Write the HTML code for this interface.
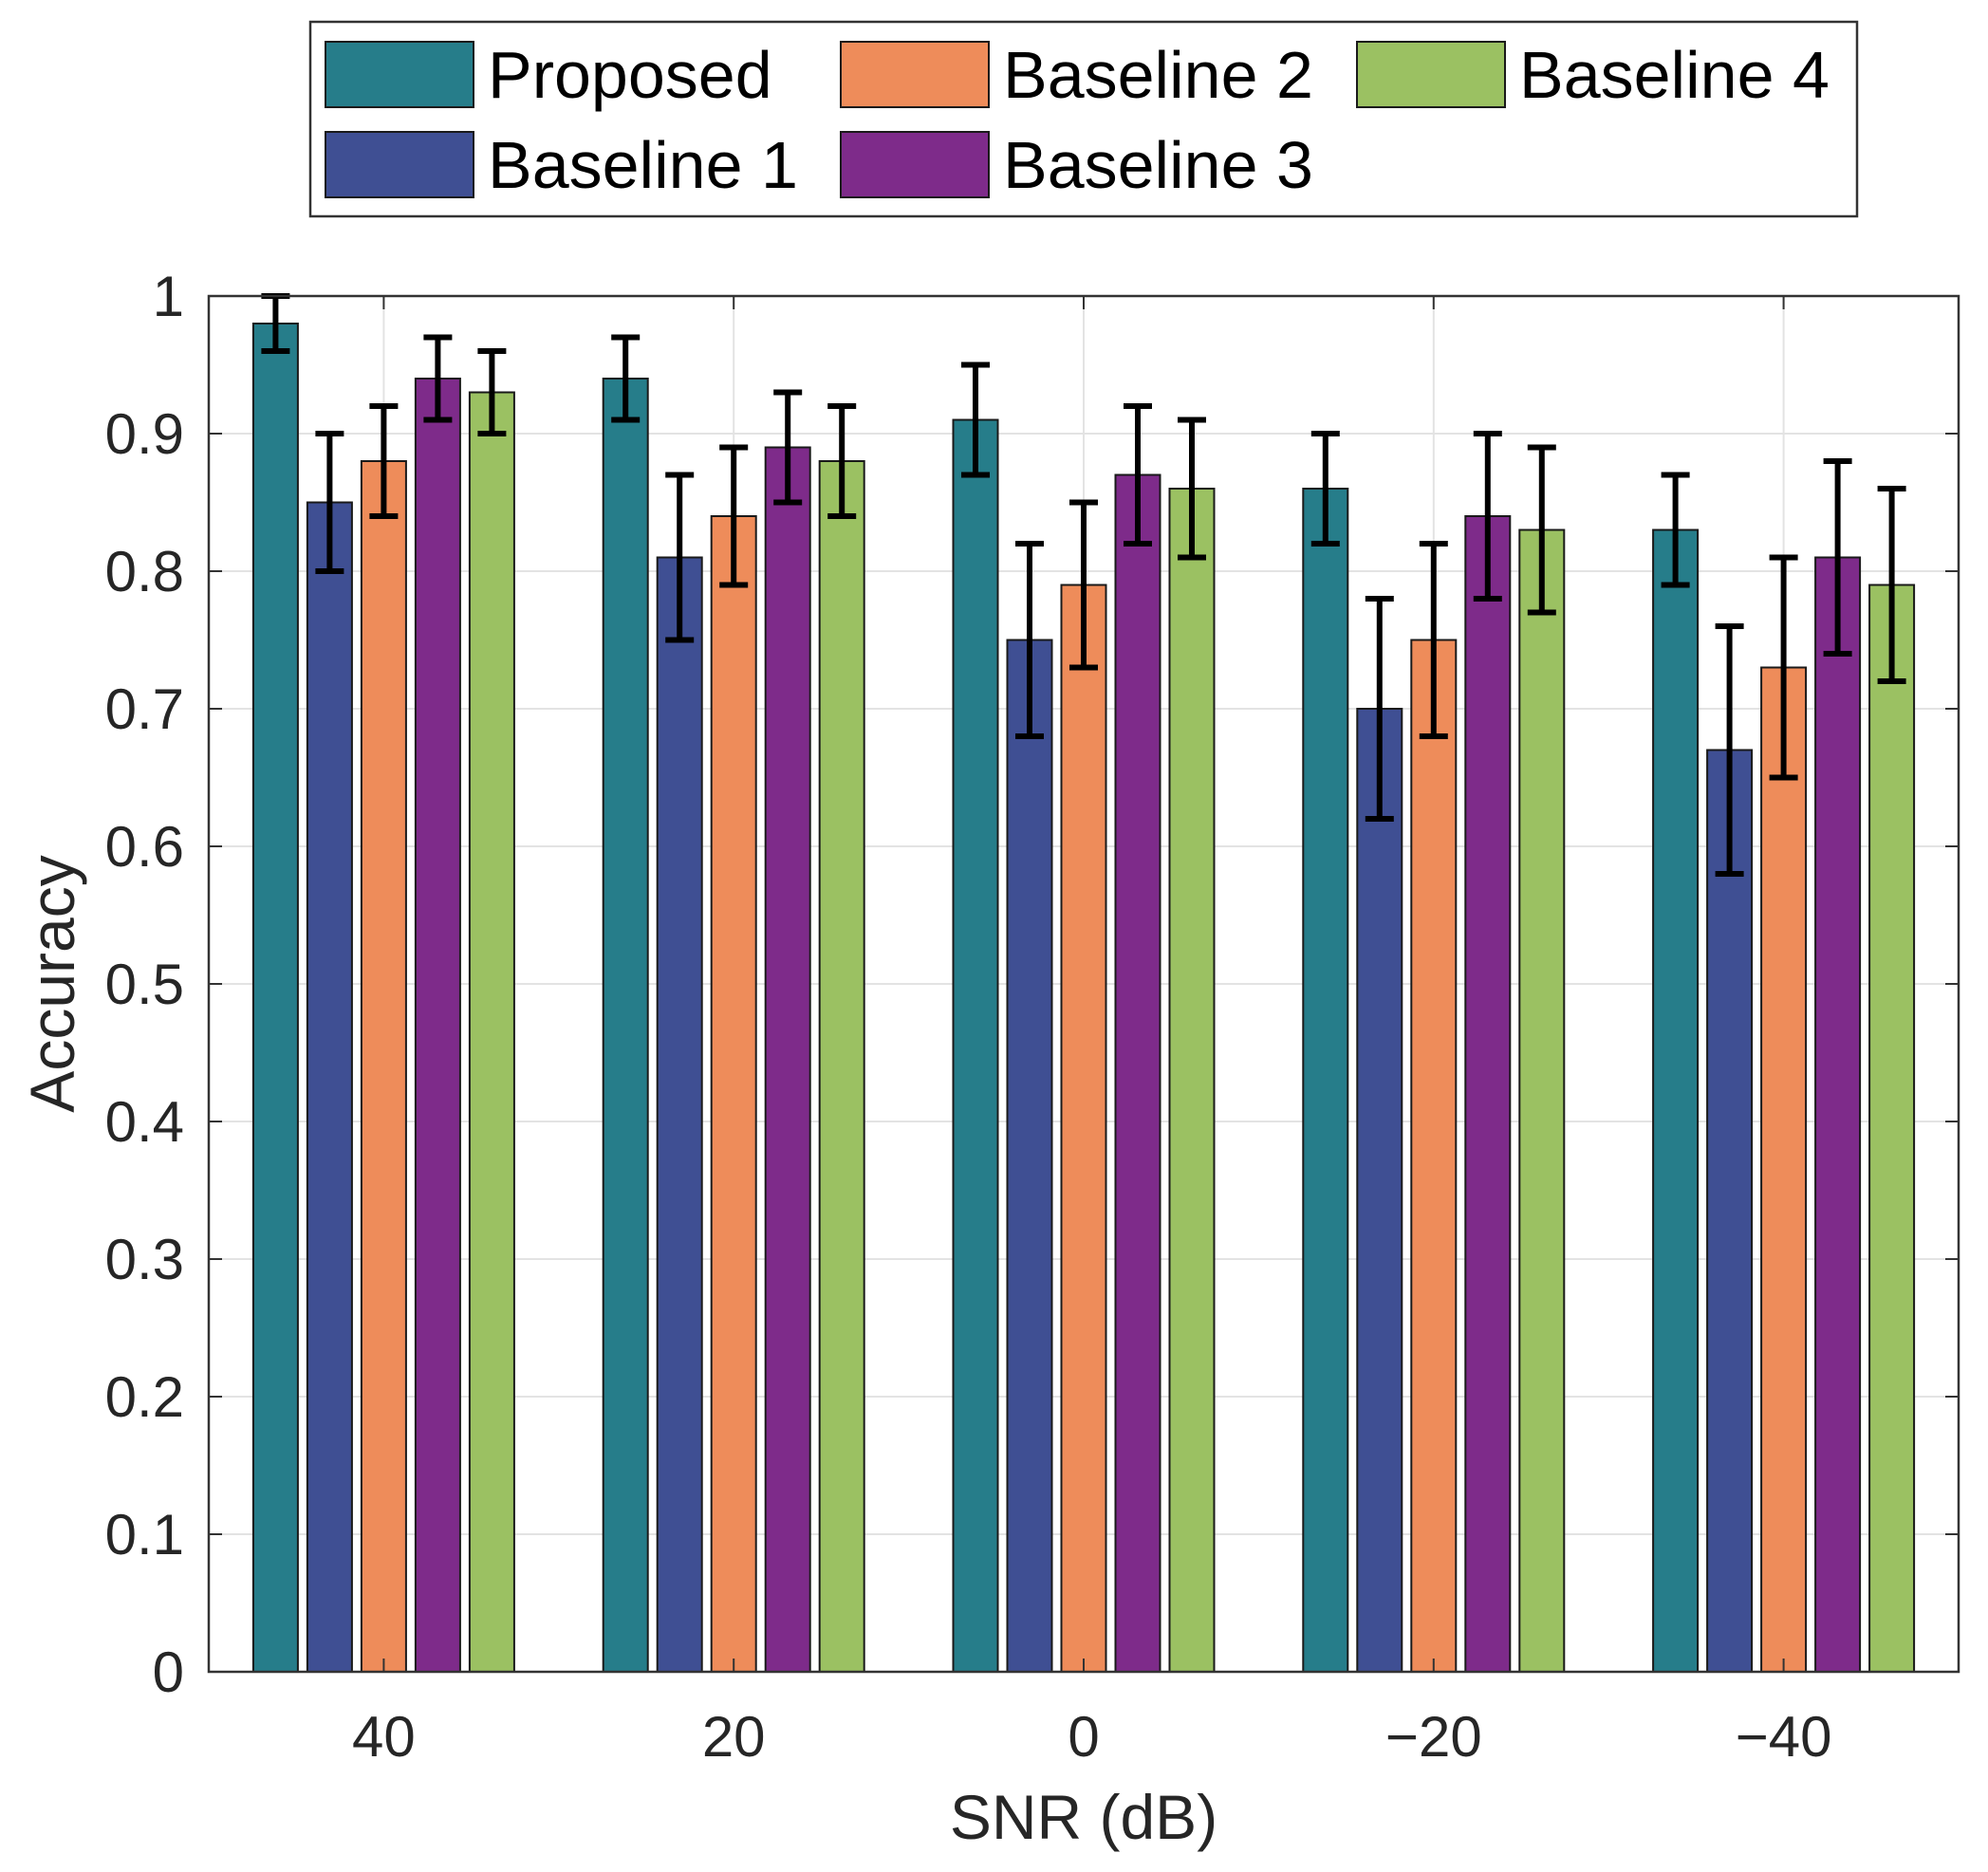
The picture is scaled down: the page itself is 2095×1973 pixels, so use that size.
<!DOCTYPE html>
<html><head><meta charset="utf-8"><style>
html,body{margin:0;padding:0;background:#fff;}
svg{display:block;font-family:"Liberation Sans",Arial,sans-serif;}
</style></head><body>
<svg id="chart" width="2095" height="1973" viewBox="0 0 2095 1973" xmlns="http://www.w3.org/2000/svg">
<g id="grid"></g>
<g id="bars"></g>
<g id="errs"></g>
<g id="axes"></g>
<text x="0" y="0" transform="translate(78,1037) rotate(-90)" text-anchor="middle" font-size="66" fill="#262626">Accuracy</text>
<text x="1142" y="1938" text-anchor="middle" font-size="66" fill="#262626">SNR (dB)</text>
<g id="legend"></g>
</svg>
<script>
const categories = ["40","20","0","\u221220","\u221240"];
const seriesNames = ["Proposed","Baseline 1","Baseline 2","Baseline 3","Baseline 4"];
const proposed  = [0.98,0.94,0.91,0.86,0.83];
const baseline1 = [0.85,0.81,0.75,0.70,0.67];
const baseline2 = [0.88,0.84,0.79,0.75,0.73];
const baseline3 = [0.94,0.89,0.87,0.84,0.81];
const baseline4 = [0.93,0.88,0.86,0.83,0.79];
const errProposed  = [0.02,0.03,0.04,0.04,0.04];
const errBaseline1 = [0.05,0.06,0.07,0.08,0.09];
const errBaseline2 = [0.04,0.05,0.06,0.07,0.08];
const errBaseline3 = [0.03,0.04,0.05,0.06,0.07];
const errBaseline4 = [0.03,0.04,0.05,0.06,0.07];
const yTicks = [0,0.1,0.2,0.3,0.4,0.5,0.6,0.7,0.8,0.9,1];
const yTickLabels = ["0","0.1","0.2","0.3","0.4","0.5","0.6","0.7","0.8","0.9","1"];

const series = [proposed,baseline1,baseline2,baseline3,baseline4];
const errs = [errProposed,errBaseline1,errBaseline2,errBaseline3,errBaseline4];
const colors = ["#267D8A","#3F4F93","#EE8C5A","#7E2B8A","#9BC162"];
const NS="http://www.w3.org/2000/svg";
const L=220,R=2064,T=312,B=1762;
const groupW=(R-L)/categories.length;
function xScale(i){return L+groupW*(i+0.5);}
function yScale(v){return B-(B-T)*v;}
function mk(tag,attrs,parent){const e=document.createElementNS(NS,tag);for(const k in attrs)e.setAttribute(k,attrs[k]);parent.appendChild(e);return e;}
const grid=document.getElementById('grid'),bars=document.getElementById('bars'),eg=document.getElementById('errs'),axes=document.getElementById('axes'),leg=document.getElementById('legend');

yTicks.forEach((v,i)=>{
  const y=yScale(v);
  const g=mk('line',{x1:L,x2:R,y1:y,y2:y,stroke:'#e3e3e3','stroke-width':2},grid);
  
  
  const t=mk('text',{x:194,y:y+21,'text-anchor':'end','font-size':60,fill:'#262626'},axes);
  t.textContent=yTickLabels[i];
  
  
  mk('line',{x1:L,x2:L+14,y1:y,y2:y,stroke:'#333','stroke-width':2},axes);
  mk('line',{x1:R,x2:R-14,y1:y,y2:y,stroke:'#333','stroke-width':2},axes);
});
categories.forEach((c,i)=>{
  const x=xScale(i);
  const g=mk('line',{x1:x,x2:x,y1:T,y2:B,stroke:'#e3e3e3','stroke-width':2},grid);
  
  
  const t=mk('text',{x:x,y:1851,'text-anchor':'middle','font-size':60,fill:'#262626'},axes);
  t.textContent=c;
  
  
});
const pitch=57,bw=47;
series.forEach((s,si)=>{
  s.forEach((v,i)=>{
    const cx=xScale(i)+(si-2)*pitch;
    const r=mk('rect',{x:cx-bw/2,y:yScale(v),width:bw,height:B-yScale(v),fill:colors[si],stroke:'#1a1a1a','stroke-width':2},bars);
    
    
    const e=errs[si][i];
    const y1=yScale(v+e),y2=yScale(v-e);
    const p=mk('path',{d:`M${cx},${y1}V${y2}M${cx-15},${y1}H${cx+15}M${cx-15},${y2}H${cx+15}`,stroke:'#000','stroke-width':6,fill:'none'},eg);
    
    
  });
});
categories.forEach((c,i)=>{
  const x=xScale(i);
  mk('line',{x1:x,x2:x,y1:B,y2:B-14,stroke:'#333','stroke-width':2},axes);
  mk('line',{x1:x,x2:x,y1:T,y2:T+14,stroke:'#333','stroke-width':2},axes);
});
mk('rect',{x:L,y:T,width:R-L,height:B-T,fill:'none',stroke:'#333','stroke-width':2.5},axes);

// legend
const lb=mk('rect',{x:327,y:23,width:1630,height:205,fill:'#fff',stroke:'#333','stroke-width':2.5},leg);


const colX=[343,886,1430],rowY=[44,139];
const order=[[0,0],[1,0],[0,1],[1,1],[0,2]];
// order: Proposed(r0c0), Baseline1(r1c0), Baseline2(r0c1), Baseline3(r1c1), Baseline4(r0c2)
seriesNames.forEach((n,si)=>{
  const row=order[si][0],col=order[si][1];
  const g=mk('g',{},leg);
  
  
  mk('rect',{x:colX[col],y:rowY[row],width:156,height:69,fill:colors[si],stroke:'#1a1a1a','stroke-width':2},g);
  const t=mk('text',{x:colX[col]+171,y:rowY[row]+59,'font-size':70,fill:'#000'},g);
  t.textContent=n;
});
</script>
</body></html>
